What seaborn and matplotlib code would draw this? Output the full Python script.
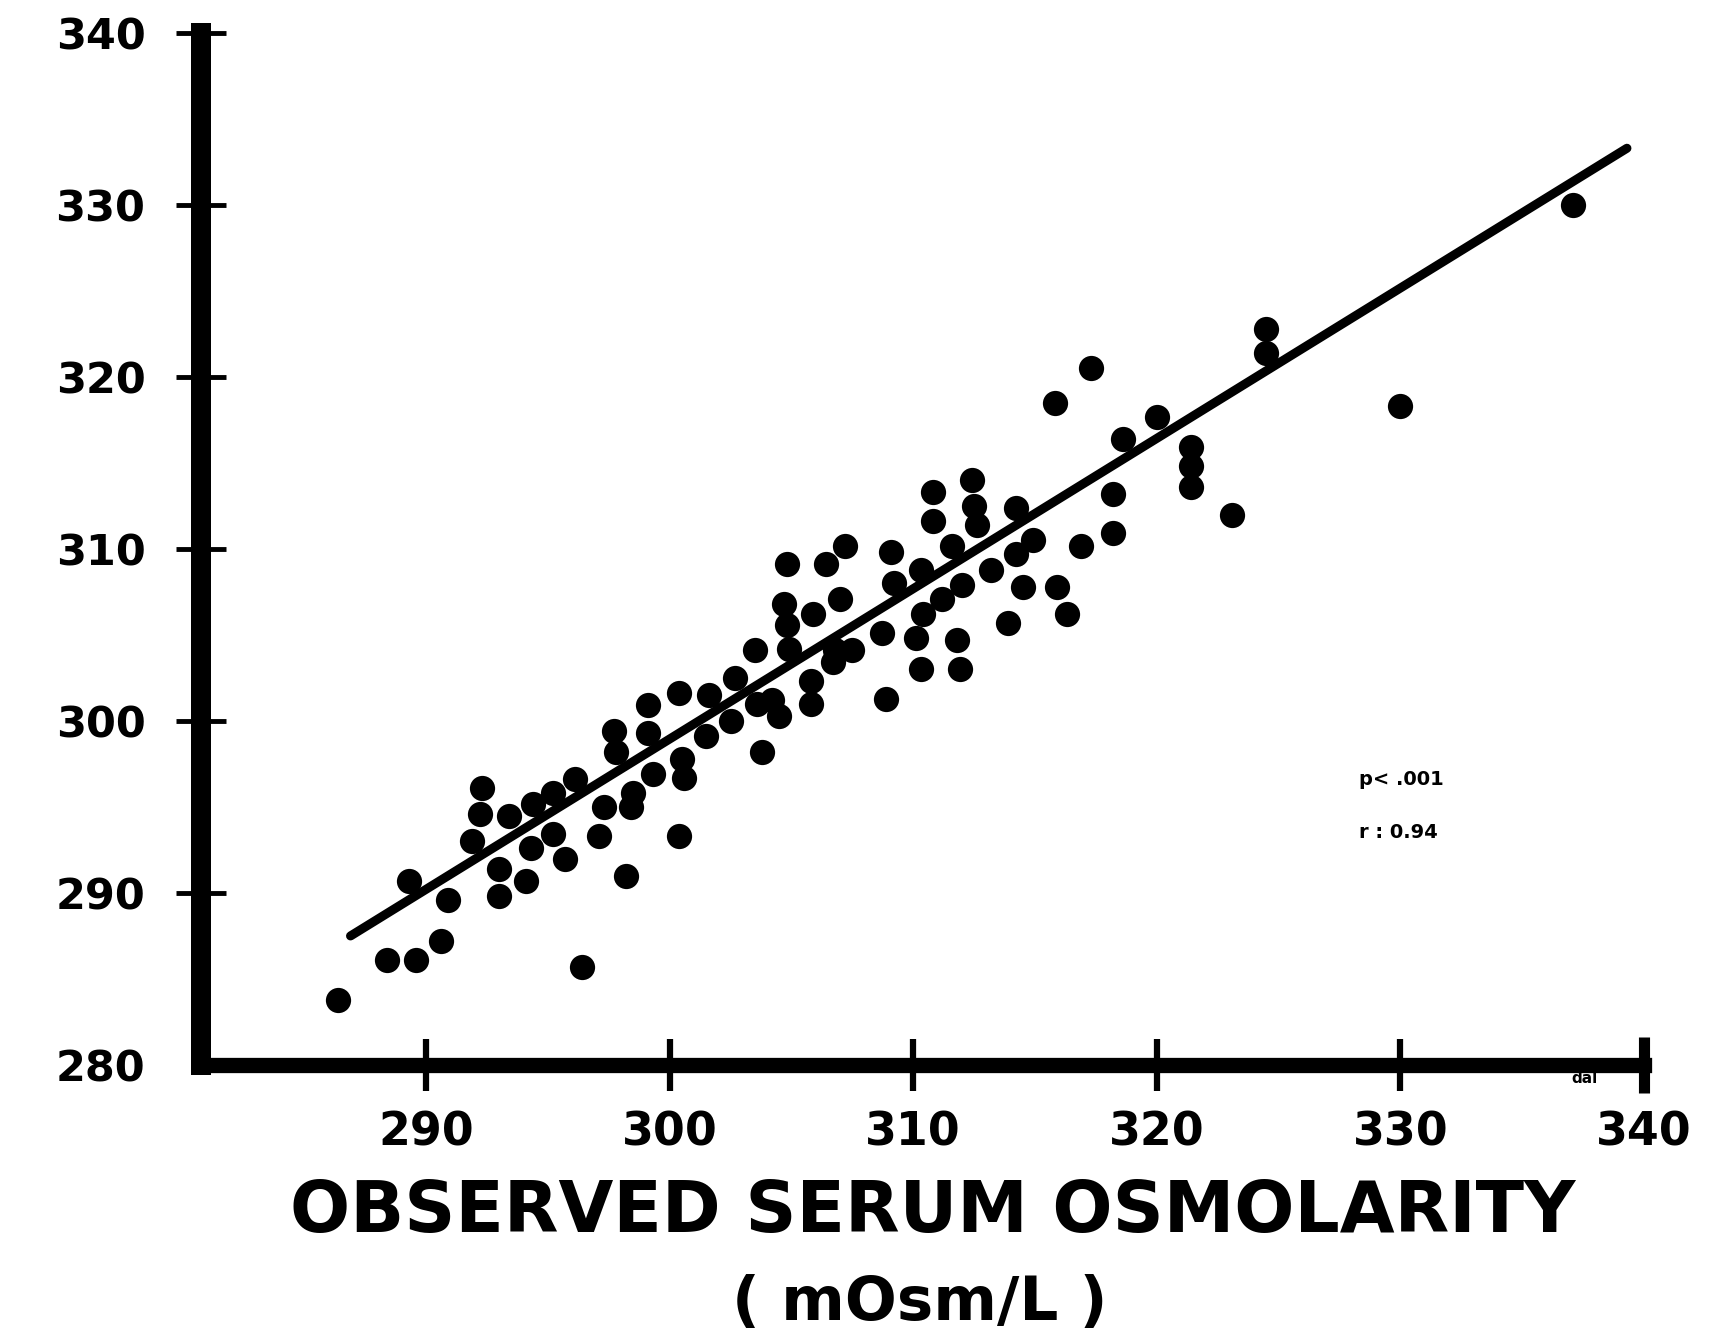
import matplotlib
matplotlib.use('Agg')
import matplotlib.pyplot as plt
import seaborn as sns

# observed vs calculated serum osmolarity (mOsm/L)
observed = [286.4, 288.4, 289.6, 290.6, 289.3, 290.9, 292.3, 292.2, 291.9, 293.0,
            293.0, 293.4, 294.1, 294.3, 294.4, 295.2, 295.2, 295.7, 296.1, 296.4,
            297.1, 297.3, 297.7, 297.8, 298.2, 298.4, 298.5, 299.1, 299.3, 300.4,
            300.5, 300.6, 301.5, 299.1, 300.4, 301.6, 302.7, 303.5, 303.8, 302.5,
            303.6, 304.2, 304.5, 304.8, 304.7, 304.8, 304.9, 305.8, 305.8, 305.9,
            306.4, 306.7, 306.8, 307.0, 307.2, 307.5, 308.7, 308.9, 309.1, 309.2,
            310.1, 310.3, 310.3, 310.4, 310.8, 310.8, 312.4, 312.5, 312.6, 311.6,
            312.0, 311.2, 311.8, 311.9, 313.2, 313.9, 314.2, 314.2, 314.5, 314.9,
            315.8, 315.9, 316.3, 316.9, 317.3, 318.2, 318.2, 318.6, 320.0, 321.4,
            321.4, 321.4, 323.1, 324.5, 324.5, 330.0, 337.1]
calculated = [283.8, 286.1, 286.1, 287.2, 290.7, 289.6, 296.1, 294.6, 293.0, 291.4,
              289.8, 294.5, 290.7, 292.6, 295.2, 295.8, 293.4, 292.0, 296.6, 285.7,
              293.3, 295.0, 299.4, 298.2, 291.0, 295.0, 295.8, 299.3, 296.9, 293.3,
              297.8, 296.7, 299.1, 300.9, 301.6, 301.5, 302.5, 304.1, 298.2, 300.0,
              301.0, 301.2, 300.3, 309.1, 306.8, 305.6, 304.2, 302.3, 301.0, 306.2,
              309.1, 303.4, 304.1, 307.1, 310.2, 304.1, 305.1, 301.3, 309.8, 308.0,
              304.8, 308.8, 303.0, 306.2, 311.6, 313.3, 314.0, 312.5, 311.4, 310.2,
              307.9, 307.1, 304.7, 303.0, 308.8, 305.7, 312.4, 309.7, 307.8, 310.5,
              318.5, 307.8, 306.2, 310.2, 320.5, 313.2, 310.9, 316.4, 317.7, 315.9,
              314.8, 313.6, 312.0, 322.8, 321.4, 318.3, 330.0]

# regression line ends as drawn in the figure
fit_x = [286.9, 339.3]
fit_y = [287.5, 333.3]

x_ticks = [290, 300, 310, 320, 330, 340]
y_ticks = [280, 290, 300, 310, 320, 330, 340]

sns.set_style('white')
plt.rcParams['font.family'] = ['DejaVu Sans']
plt.rcParams['font.weight'] = 'bold'
plt.rcParams['text.color'] = 'black'

fig = plt.figure(figsize=(17.22, 13.31), dpi=100)
ax = fig.add_axes([0.1167, 0.1999, 0.838, 0.7753])

sns.scatterplot(x=observed, y=calculated, color='black', s=330, linewidth=0, ax=ax)
sns.lineplot(x=fit_x, y=fit_y, color='black', linewidth=6.5, ax=ax)

ax.set_xlim(280.76, 340)
ax.set_ylim(280, 340)
ax.set_xticks(x_ticks)
ax.set_yticks(y_ticks)
ax.set_xticklabels([str(t) for t in x_ticks], fontsize=33, fontweight='bold')
ax.set_yticklabels([str(t) for t in y_ticks], fontsize=31, fontweight='bold')

for side in ['top', 'right']:
    ax.spines[side].set_visible(False)
ax.spines['left'].set_linewidth(14.4)
ax.spines['bottom'].set_linewidth(11)
ax.spines['left'].set_color('black')
ax.spines['bottom'].set_color('black')

ax.tick_params(axis='y', left=True, direction='inout', length=36, width=3.5, pad=22,
               colors='black')
ax.tick_params(axis='x', bottom=True, direction='inout', length=38, width=4.5, pad=14,
               colors='black')

# heavy end bar at 340, no tick mark at 280
end_tick = ax.xaxis.get_major_ticks()[-1]
end_tick.tick1line.set_markersize(40)
end_tick.tick1line.set_markeredgewidth(8)
ax.yaxis.get_major_ticks()[0].tick1line.set_visible(False)

ax.text(328.3, 296.6, 'p< .001', fontsize=14, fontweight='bold', va='center', color='black')
ax.text(328.3, 293.5, 'r : 0.94', fontsize=14, fontweight='bold', va='center', color='black')
ax.text(337.0, 279.2, 'dal', fontsize=11, va='center', color='black', clip_on=False)

fig.text(0.5418, 0.0887, 'OBSERVED SERUM OSMOLARITY', fontsize=51, fontweight='bold',
         ha='center', va='center', color='black')
fig.text(0.534, 0.0203, '( mOsm/L )', fontsize=44, fontweight='bold',
         ha='center', va='center', color='black')

plt.savefig('out.png', dpi=100)
